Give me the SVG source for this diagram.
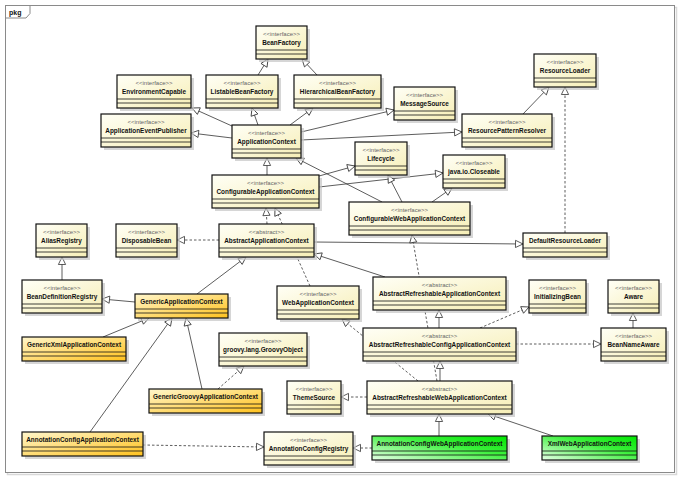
<svg xmlns="http://www.w3.org/2000/svg" width="681" height="489" viewBox="0 0 681 489">
<defs>
<linearGradient id="gIf" x1="0" y1="0" x2="1" y2="1"><stop offset="0" stop-color="#fffff6"/><stop offset="1" stop-color="#f6eeb6"/></linearGradient>
<linearGradient id="gOr" x1="0" y1="0" x2="1" y2="1"><stop offset="0" stop-color="#fff6cc"/><stop offset="1" stop-color="#ffc21e"/></linearGradient>
<linearGradient id="gGr" x1="0" y1="1" x2="1" y2="0"><stop offset="0" stop-color="#e6ffe6"/><stop offset="0.6" stop-color="#3cf03c"/><stop offset="1" stop-color="#00e600"/></linearGradient>
<marker id="tri" markerUnits="userSpaceOnUse" markerWidth="12" markerHeight="12" viewBox="-1 -6 10 12" refX="7.5" refY="0" orient="auto">
<path d="M0,-3.6 L7.5,0 L0,3.6 Z" fill="#fff" stroke="#333" stroke-width="0.8" stroke-dasharray="none"/>
</marker>
</defs>
<style>
.sh{fill:#c4c4c4;opacity:.7}
.if{fill:url(#gIf);stroke:#111;stroke-width:1.2}
.or{fill:url(#gOr);stroke:#111;stroke-width:1.2}
.gr{fill:url(#gGr);stroke:#111;stroke-width:1.2}
.cl{stroke:#111;stroke-width:0.8;fill:none}
.st{font-family:"Liberation Sans",Arial,sans-serif;font-size:6px;fill:#666;text-anchor:middle}
.nm{font-family:"Liberation Sans",Arial,sans-serif;font-size:6.4px;font-weight:bold;fill:#111;text-anchor:middle}
.e{fill:none;stroke:#333;stroke-width:0.8;marker-end:url(#tri)}
.d{stroke-dasharray:2.5,2}
</style>
<rect width="681" height="489" fill="#fff"/>
<g id="frame">
<rect x="7.5" y="7.5" width="669" height="467" fill="none" stroke="#d8d8d8" stroke-width="1.5"/>
<rect x="5.5" y="5.5" width="669" height="467" fill="#fff" stroke="#8a8a8a" stroke-width="1"/>
<path d="M5.5,18 H26 L30,13.5 V5.5" fill="none" stroke="#8a8a8a" stroke-width="1"/>
<text x="9" y="14.5" style="font-family:'Liberation Sans',Arial,sans-serif;font-size:7px;font-weight:bold;fill:#111">pkg</text>
</g>
<g id="connectors">
<path class="e" d="M258,75 L268,59"/>
<path class="e" d="M317,75 L302,59"/>
<path class="e" d="M232,126 L192,108"/>
<path class="e" d="M258,125 L252,108"/>
<path class="e" d="M290,125 L313,108"/>
<path class="e" d="M232,138 L191,133"/>
<path class="e" d="M301,132 L394,110"/>
<path class="e" d="M301,140 L462,132"/>
<path class="e" d="M523,114 L549,87"/>
<path class="e d" d="M565,233 L565,87"/>
<path class="e" d="M267,175 L267,158"/>
<path class="e" d="M319,176 L355,166"/>
<path class="e" d="M319,187 L443,173"/>
<path class="e" d="M382,202 L296,158"/>
<path class="e" d="M402,202 L388,175"/>
<path class="e" d="M432,202 L452,188"/>
<path class="e d" d="M267,224 L266,208"/>
<path class="e d" d="M310,286 L275,208"/>
<path class="e d" d="M219,240 L177,240"/>
<path class="e" d="M314,242 L523,244"/>
<path class="e" d="M385,277 L314,254"/>
<path class="e" d="M197,294 L246,257"/>
<path class="e" d="M135,302 L102,299"/>
<path class="e" d="M62,280 L62,257"/>
<path class="e" d="M103,337 L149,318"/>
<path class="e" d="M90,432 L172,318"/>
<path class="e" d="M202,389 L186,318"/>
<path class="e d" d="M218,389 L244,366"/>
<path class="e d" d="M418,381 L342,319"/>
<path class="e d" d="M437,381 L412,235"/>
<path class="e" d="M439,328 L439,310"/>
<path class="e" d="M440,381 L440,361"/>
<path class="e d" d="M480,328 L529,307"/>
<path class="e d" d="M516,344 L601,344"/>
<path class="e" d="M633,328 L633,313"/>
<path class="e d" d="M367,397 L341,397"/>
<path class="e" d="M439,436 L439,414"/>
<path class="e" d="M553,436 L488,414"/>
<path class="e d" d="M143,445 L264,447"/>
<path class="e d" d="M372,448 L353,448"/>
</g>
<g id="BeanFactory"><rect class="sh" x="259" y="29" width="51" height="33"/><rect class="if" x="256" y="26" width="51" height="33"/><path class="cl" d="M256,50H307M256,54H307"/><text class="st" x="281.5" y="36">&lt;&lt;interface&gt;&gt;</text><text class="nm" x="281.5" y="45">BeanFactory</text></g>
<g id="EnvironmentCapable"><rect class="sh" x="120" y="78" width="74" height="33"/><rect class="if" x="117" y="75" width="74" height="33"/><path class="cl" d="M117,99H191M117,103H191"/><text class="st" x="154" y="85">&lt;&lt;interface&gt;&gt;</text><text class="nm" x="154" y="94">EnvironmentCapable</text></g>
<g id="ListableBeanFactory"><rect class="sh" x="209" y="78" width="72" height="33"/><rect class="if" x="206" y="75" width="72" height="33"/><path class="cl" d="M206,99H278M206,103H278"/><text class="st" x="242" y="85">&lt;&lt;interface&gt;&gt;</text><text class="nm" x="242" y="94">ListableBeanFactory</text></g>
<g id="HierarchicalBeanFactory"><rect class="sh" x="297" y="78" width="87" height="33"/><rect class="if" x="294" y="75" width="87" height="33"/><path class="cl" d="M294,99H381M294,103H381"/><text class="st" x="337.5" y="85">&lt;&lt;interface&gt;&gt;</text><text class="nm" x="337.5" y="94">HierarchicalBeanFactory</text></g>
<g id="ApplicationEventPublisher"><rect class="sh" x="104" y="117" width="90" height="33"/><rect class="if" x="101" y="114" width="90" height="33"/><path class="cl" d="M101,138H191M101,142H191"/><text class="st" x="146" y="124">&lt;&lt;interface&gt;&gt;</text><text class="nm" x="146" y="133">ApplicationEventPublisher</text></g>
<g id="ApplicationContext"><rect class="sh" x="235" y="128" width="69" height="33"/><rect class="if" x="232" y="125" width="69" height="33"/><path class="cl" d="M232,149H301M232,153H301"/><text class="st" x="266.5" y="135">&lt;&lt;interface&gt;&gt;</text><text class="nm" x="266.5" y="144">ApplicationContext</text></g>
<g id="MessageSource"><rect class="sh" x="397" y="90" width="61" height="33"/><rect class="if" x="394" y="87" width="61" height="33"/><path class="cl" d="M394,111H455M394,115H455"/><text class="st" x="424.5" y="97">&lt;&lt;interface&gt;&gt;</text><text class="nm" x="424.5" y="106">MessageSource</text></g>
<g id="ResourceLoader"><rect class="sh" x="537" y="57" width="62" height="33"/><rect class="if" x="534" y="54" width="62" height="33"/><path class="cl" d="M534,78H596M534,82H596"/><text class="st" x="565" y="64">&lt;&lt;interface&gt;&gt;</text><text class="nm" x="565" y="73">ResourceLoader</text></g>
<g id="ResourcePatternResolver"><rect class="sh" x="465" y="117" width="90" height="33"/><rect class="if" x="462" y="114" width="90" height="33"/><path class="cl" d="M462,138H552M462,142H552"/><text class="st" x="507" y="124">&lt;&lt;interface&gt;&gt;</text><text class="nm" x="507" y="133">ResourcePatternResolver</text></g>
<g id="Lifecycle"><rect class="sh" x="358" y="145" width="52" height="33"/><rect class="if" x="355" y="142" width="52" height="33"/><path class="cl" d="M355,166H407M355,170H407"/><text class="st" x="381" y="152">&lt;&lt;interface&gt;&gt;</text><text class="nm" x="381" y="161">Lifecycle</text></g>
<g id="Closeable"><rect class="sh" x="446" y="158" width="62" height="33"/><rect class="if" x="443" y="155" width="62" height="33"/><path class="cl" d="M443,179H505M443,183H505"/><text class="st" x="474" y="165">&lt;&lt;interface&gt;&gt;</text><text class="nm" x="474" y="174">java.io.Closeable</text></g>
<g id="ConfigurableApplicationContext"><rect class="sh" x="215" y="178" width="107" height="33"/><rect class="if" x="212" y="175" width="107" height="33"/><path class="cl" d="M212,199H319M212,203H319"/><text class="st" x="265.5" y="185">&lt;&lt;interface&gt;&gt;</text><text class="nm" x="265.5" y="194">ConfigurableApplicationContext</text></g>
<g id="ConfigurableWebApplicationContext"><rect class="sh" x="352" y="205" width="121" height="33"/><rect class="if" x="349" y="202" width="121" height="33"/><path class="cl" d="M349,226H470M349,230H470"/><text class="st" x="409.5" y="212">&lt;&lt;interface&gt;&gt;</text><text class="nm" x="409.5" y="221">ConfigurableWebApplicationContext</text></g>
<g id="AliasRegistry"><rect class="sh" x="39" y="227" width="51" height="33"/><rect class="if" x="36" y="224" width="51" height="33"/><path class="cl" d="M36,248H87M36,252H87"/><text class="st" x="61.5" y="234">&lt;&lt;interface&gt;&gt;</text><text class="nm" x="61.5" y="243">AliasRegistry</text></g>
<g id="DisposableBean"><rect class="sh" x="119" y="227" width="61" height="33"/><rect class="if" x="116" y="224" width="61" height="33"/><path class="cl" d="M116,248H177M116,252H177"/><text class="st" x="146.5" y="234">&lt;&lt;interface&gt;&gt;</text><text class="nm" x="146.5" y="243">DisposableBean</text></g>
<g id="AbstractApplicationContext"><rect class="sh" x="222" y="227" width="95" height="33"/><rect class="if" x="219" y="224" width="95" height="33"/><path class="cl" d="M219,248H314M219,252H314"/><text class="st" x="266.5" y="234">&lt;&lt;abstract&gt;&gt;</text><text class="nm" x="266.5" y="243">AbstractApplicationContext</text></g>
<g id="DefaultResourceLoader"><rect class="sh" x="526" y="236" width="84" height="24"/><rect class="if" x="523" y="233" width="84" height="24"/><path class="cl" d="M523,248H607M523,252H607"/><text class="nm" x="565" y="243">DefaultResourceLoader</text></g>
<g id="BeanDefinitionRegistry"><rect class="sh" x="25" y="283" width="80" height="33"/><rect class="if" x="22" y="280" width="80" height="33"/><path class="cl" d="M22,304H102M22,308H102"/><text class="st" x="62" y="290">&lt;&lt;interface&gt;&gt;</text><text class="nm" x="62" y="299">BeanDefinitionRegistry</text></g>
<g id="GenericApplicationContext"><rect class="sh" x="138" y="297" width="93" height="24"/><rect class="or" x="135" y="294" width="93" height="24"/><path class="cl" d="M135,309H228M135,313H228"/><text class="nm" x="181.5" y="304">GenericApplicationContext</text></g>
<g id="WebApplicationContext"><rect class="sh" x="280" y="289" width="82" height="33"/><rect class="if" x="277" y="286" width="82" height="33"/><path class="cl" d="M277,310H359M277,314H359"/><text class="st" x="318" y="296">&lt;&lt;interface&gt;&gt;</text><text class="nm" x="318" y="305">WebApplicationContext</text></g>
<g id="AbstractRefreshableApplicationContext"><rect class="sh" x="376" y="280" width="133" height="33"/><rect class="if" x="373" y="277" width="133" height="33"/><path class="cl" d="M373,301H506M373,305H506"/><text class="st" x="439.5" y="287">&lt;&lt;abstract&gt;&gt;</text><text class="nm" x="439.5" y="296">AbstractRefreshableApplicationContext</text></g>
<g id="InitializingBean"><rect class="sh" x="532" y="283" width="57" height="33"/><rect class="if" x="529" y="280" width="57" height="33"/><path class="cl" d="M529,304H586M529,308H586"/><text class="st" x="557.5" y="290">&lt;&lt;interface&gt;&gt;</text><text class="nm" x="557.5" y="299">InitializingBean</text></g>
<g id="Aware"><rect class="sh" x="611" y="283" width="51" height="33"/><rect class="if" x="608" y="280" width="51" height="33"/><path class="cl" d="M608,304H659M608,308H659"/><text class="st" x="633.5" y="290">&lt;&lt;interface&gt;&gt;</text><text class="nm" x="633.5" y="299">Aware</text></g>
<g id="BeanNameAware"><rect class="sh" x="604" y="331" width="65" height="33"/><rect class="if" x="601" y="328" width="65" height="33"/><path class="cl" d="M601,352H666M601,356H666"/><text class="st" x="633.5" y="338">&lt;&lt;interface&gt;&gt;</text><text class="nm" x="633.5" y="347">BeanNameAware</text></g>
<g id="AbstractRefreshableConfigApplicationContext"><rect class="sh" x="366" y="331" width="153" height="33"/><rect class="if" x="363" y="328" width="153" height="33"/><path class="cl" d="M363,352H516M363,356H516"/><text class="st" x="439.5" y="338">&lt;&lt;abstract&gt;&gt;</text><text class="nm" x="439.5" y="347">AbstractRefreshableConfigApplicationContext</text></g>
<g id="AbstractRefreshableWebApplicationContext"><rect class="sh" x="370" y="384" width="145" height="33"/><rect class="if" x="367" y="381" width="145" height="33"/><path class="cl" d="M367,405H512M367,409H512"/><text class="st" x="439.5" y="391">&lt;&lt;abstract&gt;&gt;</text><text class="nm" x="439.5" y="400">AbstractRefreshableWebApplicationContext</text></g>
<g id="ThemeSource"><rect class="sh" x="290" y="384" width="54" height="33"/><rect class="if" x="287" y="381" width="54" height="33"/><path class="cl" d="M287,405H341M287,409H341"/><text class="st" x="314" y="391">&lt;&lt;interface&gt;&gt;</text><text class="nm" x="314" y="400">ThemeSource</text></g>
<g id="GenericXmlApplicationContext"><rect class="sh" x="25" y="340" width="104" height="24"/><rect class="or" x="22" y="337" width="104" height="24"/><path class="cl" d="M22,352H126M22,356H126"/><text class="nm" x="74" y="347">GenericXmlApplicationContext</text></g>
<g id="GroovyObject"><rect class="sh" x="222" y="336" width="88" height="33"/><rect class="if" x="219" y="333" width="88" height="33"/><path class="cl" d="M219,357H307M219,361H307"/><text class="st" x="263" y="343">&lt;&lt;interface&gt;&gt;</text><text class="nm" x="263" y="352">groovy.lang.GroovyObject</text></g>
<g id="GenericGroovyApplicationContext"><rect class="sh" x="152" y="392" width="113" height="24"/><rect class="or" x="149" y="389" width="113" height="24"/><path class="cl" d="M149,404H262M149,408H262"/><text class="nm" x="205.5" y="399">GenericGroovyApplicationContext</text></g>
<g id="AnnotationConfigApplicationContext"><rect class="sh" x="25" y="435" width="121" height="24"/><rect class="or" x="22" y="432" width="121" height="24"/><path class="cl" d="M22,447H143M22,451H143"/><text class="nm" x="82.5" y="442">AnnotationConfigApplicationContext</text></g>
<g id="AnnotationConfigRegistry"><rect class="sh" x="267" y="435" width="89" height="33"/><rect class="if" x="264" y="432" width="89" height="33"/><path class="cl" d="M264,456H353M264,460H353"/><text class="st" x="308.5" y="442">&lt;&lt;interface&gt;&gt;</text><text class="nm" x="308.5" y="451">AnnotationConfigRegistry</text></g>
<g id="AnnotationConfigWebApplicationContext"><rect class="sh" x="375" y="439" width="135" height="24"/><rect class="gr" x="372" y="436" width="135" height="24"/><path class="cl" d="M372,451H507M372,455H507"/><text class="nm" x="439.5" y="446">AnnotationConfigWebApplicationContext</text></g>
<g id="XmlWebApplicationContext"><rect class="sh" x="545" y="439" width="95" height="24"/><rect class="gr" x="542" y="436" width="95" height="24"/><path class="cl" d="M542,451H637M542,455H637"/><text class="nm" x="589.5" y="446">XmlWebApplicationContext</text></g>
</svg>
